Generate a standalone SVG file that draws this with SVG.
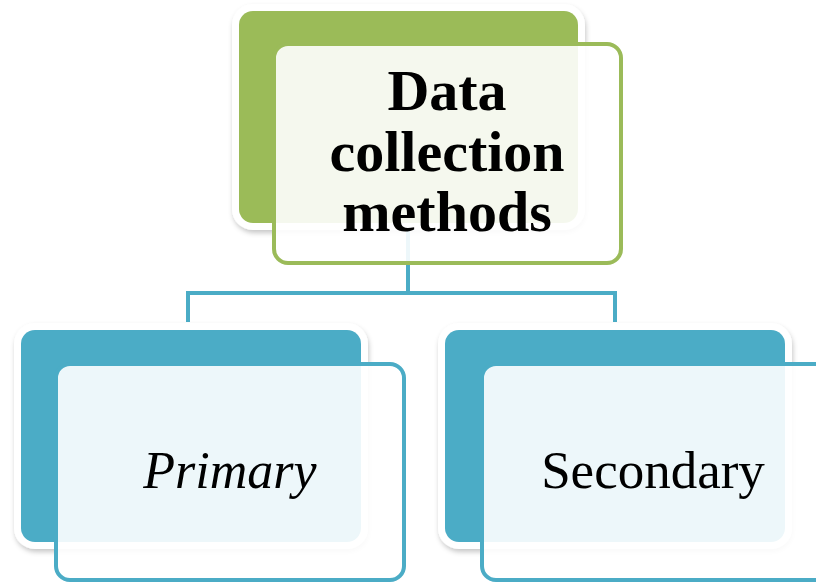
<svg xmlns="http://www.w3.org/2000/svg" width="816" height="583" viewBox="0 0 816 583">
<defs>
<filter id="sh" x="-10%" y="-10%" width="120%" height="125%">
<feDropShadow dx="1" dy="3" stdDeviation="2.5" flood-color="#000" flood-opacity="0.22"/>
</filter>
</defs>
<style>
.back{stroke:#fff;stroke-width:14;paint-order:stroke;filter:url(#sh)}
.front{fill:#fff;fill-opacity:0.9;stroke-width:4}
.g{fill:#9bbb59}
.gs{stroke:#9bbb59}
.b{fill:#4bacc6}
.bs{stroke:#4bacc6}
.conn{fill:none;stroke:#4bacc6;stroke-width:4}
text{font-family:"Liberation Serif","Times New Roman",serif;fill:#000}
</style>
<rect width="816" height="583" fill="#fff"/>
<g id="top-back"><rect class="back g" x="239" y="11" width="339" height="212" rx="14"/></g>
<g id="conn"><path class="conn" d="M408,228 V293 M188,293 H615 M188,291 V322 M615,291 V322"/></g>
<g id="top">
<rect class="front gs" x="274" y="44" width="347" height="219" rx="14"/>
<text x="447" y="110" text-anchor="middle" font-size="58" font-weight="bold">Data</text>
<text x="447" y="171" text-anchor="middle" font-size="58" font-weight="bold">collection</text>
<text x="447" y="231" text-anchor="middle" font-size="58" font-weight="bold">methods</text>
</g>
<g id="primary">
<rect class="back b" x="21" y="330" width="340" height="212" rx="14"/>
<rect class="front bs" x="56" y="364" width="348" height="216" rx="14"/>
<text x="230" y="488" text-anchor="middle" font-size="52" font-style="italic">Primary</text>
</g>
<g id="secondary">
<rect class="back b" x="445" y="330" width="340" height="212" rx="14"/>
<rect class="front bs" x="482" y="364" width="348" height="216" rx="14"/>
<text x="653" y="488" text-anchor="middle" font-size="53">Secondary</text>
</g>
</svg>
